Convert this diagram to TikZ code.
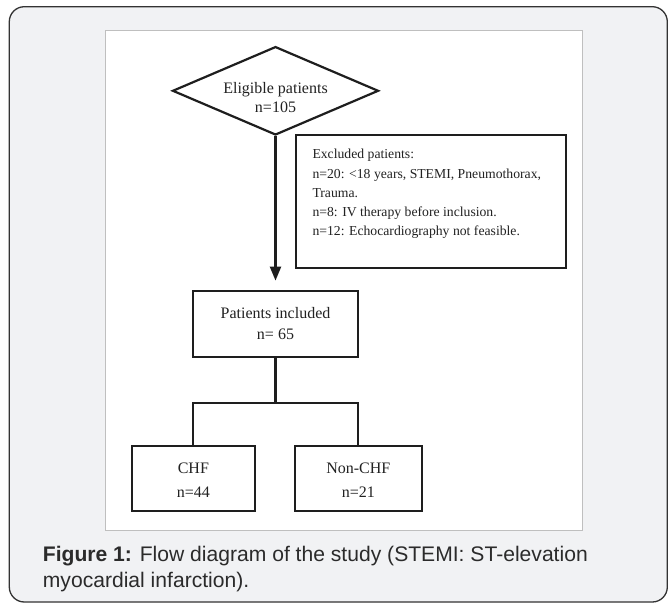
\documentclass[tikz,border=0pt]{standalone}
\usepackage{fontspec}
\setmainfont{Liberation Serif}
\newfontfamily\capfont{Liberation Sans}
\usetikzlibrary{shapes.geometric,arrows.meta}
\definecolor{panelfill}{HTML}{F1F2F4}
\definecolor{panelline}{HTML}{333333}
\definecolor{boxline}{HTML}{1E1E1E}
\definecolor{txt}{HTML}{222222}
\definecolor{captxt}{HTML}{2B2B2B}
\definecolor{frameline}{HTML}{BFBFBF}
\begin{document}
\begin{tikzpicture}[x=1pt,y=-1pt,
  flowline/.style={draw=boxline,line width=2.2pt,line join=miter},
  flowbox/.style={rectangle,draw=boxline,line width=2.2pt,inner sep=0pt,fill=white},
  maintext/.style={text=txt,font=\fontsize{16}{19}\selectfont,align=center,inner sep=0pt}]
\useasboundingbox (0,0) rectangle (669,605);
\fill[white] (0,0) rectangle (669,605);
% panel
\draw[draw=panelline,fill=panelfill,line width=1.3pt,rounded corners=15pt] (9.3,6.7) rectangle (667.3,602);
% figure frame
\draw[draw=frameline,fill=white,line width=0.9pt] (105.5,30.5) rectangle (582.3,530);
% diamond
\node[diamond,draw=boxline,line width=2.2pt,inner sep=0pt,aspect=2.33,
      minimum width=206pt,minimum height=88.4pt] (elig) at (275.5,90.8) {};
\node[maintext] (eligtxt) at (275.5,97.8) {Eligible patients\\n=105};
% excluded box
\node[flowbox,minimum width=270pt,minimum height=133.3pt] (excl) at (430.7,201.65) {};
\node[anchor=north west,inner sep=0pt,align=left,text=txt,
      font=\fontsize{13.7}{19.2}\selectfont] (excltxt) at (312.3,149.2)
  {Excluded patients:\\n=20: <18 years, STEMI, Pneumothorax,\\Trauma.\\n=8: IV therapy before inclusion.\\n=12: Echocardiography not feasible.};
% patients included
\node[flowbox,minimum width=165.6pt,minimum height=66.6pt] (pat) at (275.5,324) {};
\node[maintext,font=\fontsize{16}{21.6}\selectfont] (pattxt) at (275.5,323.5) {Patients included\\n= 65};
% CHF / Non-CHF
\node[flowbox,minimum width=123.3pt,minimum height=65pt] (chf) at (193.35,478.2) {};
\node[maintext,font=\fontsize{16}{24}\selectfont] (chftxt) at (193.35,479.7) {CHF\\n=44};
\node[flowbox,minimum width=126.7pt,minimum height=65pt] (non) at (358.35,478.2) {};
\node[maintext,font=\fontsize{16}{24}\selectfont] (nontxt) at (358.35,479.7) {Non-CHF\\n=21};
% connectors
\draw[flowline,-{Triangle[width=11pt,length=14pt]},shorten >=9pt] (elig.south) -- (pat.north);
\coordinate (junc) at (275.5,402.7);
\draw[flowline] (pat.south) -- (junc);
\draw[flowline] (chf.north) |- (junc) -| (non.north);
% caption
\node[anchor=north west,inner sep=0pt,align=left,text=captxt,
      font=\capfont\fontsize{21.1}{25.3}\selectfont] (cap) at (42.7,546.5)
  {\textbf{Figure 1:} Flow diagram of the study (STEMI: ST-elevation\\myocardial infarction).};
\end{tikzpicture}
\end{document}
